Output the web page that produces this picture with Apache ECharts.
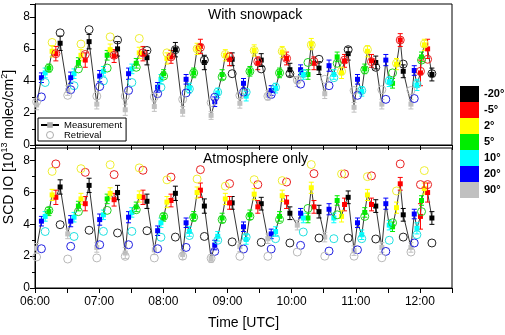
<!DOCTYPE html>
<html>
<head>
<meta charset="utf-8">
<script src="https://cdn.jsdelivr.net/npm/echarts@6/dist/echarts.min.js"></script>
<style>
  html, body { margin: 0; padding: 0; background: #fff; }
  #visualisation { width: 505px; height: 335px; }
</style>
</head>
<body>
<div id="visualisation"></div>
<script>
// elevation angles and their colours (legend order)
const angles = ['-20°', '-5°', '2°', '5°', '10°', '20°', '90°'];
const angleColors = ['#000000', '#ff0000', '#ffff00', '#00ee00', '#00ffff', '#0000ff', '#c0c0c0'];
const circleColors = ['#222222', '#e82020', '#eeee30', '#20d020', '#20e0e0', '#2020e0', '#b8b8b8'];

// measurements: [minutes after 06:00, SCD, error]
const m_20 = [[23.5,6.35,.45],[50.6,6.45,.45],[77.2,6.0,.45],[104.7,5.45,.45],[131.3,5.95,.45],[158.4,5.15,.45],[184.4,5.35,.4],[211.6,5.3,.4],[238.4,4.7,.4],[265.6,4.8,.4],[292.9,5.7,.4],[318.7,5.15,.4],[344.4,4.6,.4],[371.2,4.4,.4]];
const m_5 = [[19.5,5.7,.45],[47,5.3,.45],[74,5.55,.4],[101,5.7,.45],[127.2,5.5,.4],[154.7,6.15,.45],[182,5.35,.4],[208.4,5.1,.4],[235.3,5.4,.4],[260.9,5.1,.4],[289.5,5.25,.4],[314.7,5.25,.4],[341.6,6.55,.4],[360.5,4.5,.8],[367.2,6.0,.6]];
const m2 = [[16,5.85,.35],[43,5.6,.35],[70.3,5.95,.35],[97.5,5.75,.35],[123.4,5.4,.35],[151.6,6.0,.35],[178,5.6,.35],[205,5.9,.35],[231.2,5.8,.35],[258.4,6.3,.35],[286.7,4.5,.35],[310.9,5.85,.35],[338.1,5.05,.35],[364.1,6.25,.35]];
const m5 = [[13,4.8,.25],[40.6,5.15,.3],[67.5,5.6,.3],[94.7,5.1,.3],[120.3,4.45,.25],[148.4,4.5,.3],[175,4.4,.3],[201,4.6,.3],[228.7,4.5,.3],[255.3,4.4,.3],[282.6,5.5,.3],[308.4,4.75,.3],[334.4,3.85,.3],[361.5,5.5,.3]];
const m10 = [[9.5,4.5,.3],[36.5,4.45,.3],[64,4.6,.3],[90.6,4.75,.3],[117.8,4.1,.3],[144.4,3.55,.3],[170.9,3.25,.3],[197.5,3.05,.3],[225,3.55,.3],[250.9,4.4,.3],[279.5,4.4,.3],[305.6,3.35,.3],[331.3,3.95,.3],[357.2,3.75,.35]];
const m20 = [[6,4.2,.3],[33.4,4.2,.35],[60.5,4.3,.35],[87.5,4.45,.35],[114.7,3.6,.3],[141.3,4.1,.3],[168.1,2.7,.3],[195,3.85,.3],[220.9,3.4,.3],[248.4,4.7,.3],[275,4.95,.35],[301.6,4.1,.3],[328.1,5.3,.35],[354.7,4.65,.3]];
const m90 = [[1.5,2.5,.3],[30.6,3.4,.3],[57.8,2.55,.3],[84.4,2.2,.35],[111.6,2.4,.3],[138.1,2.1,.3],[164.7,1.85,.25],[191.6,2.6,.3],[217.8,3.1,.3],[245.3,3.95,.3],[271,3.2,.3],[298.4,2.35,.3],[324.4,2.55,.3],[351.6,2.55,.3]];

// retrievals "with snowpack" (same times as the measurements)
const s_20 = [7.0,7.2,6.55,5.9,5.95,5.3,4.45,4.75,4.45,5.35,5.95,4.85,5.05,4.45];
const s_5 = [5.7,5.65,5.6,5.75,5.5,6.1,5.5,5.2,5.4,5.2,5.3,5.2,6.55,4.6,5.35];
const s2 = [6.4,6.3,6.75,6.65,5.75,6.0,5.65,5.9,5.85,6.25,4.6,5.95,5.1,6.3];
const s5 = [4.8,4.75,4.8,4.85,4.3,4.5,4.25,4.6,4.5,5.15,5.1,4.7,4.5,5.3];
const s10 = [3.9,3.7,4.0,3.9,3.6,3.5,3.3,3.3,3.6,4.45,4.2,3.4,4.0,3.8];
const s20 = [3.0,3.45,3.65,3.4,3.2,3.25,2.98,3.3,3.15,3.8,3.7,3.1,2.85,2.9];
const s90 = [2.7,3.1,3.05,3.05,3.0,2.85,2.65,3.1,3.05,4.05,4.1,3.4,3.45,3.4];

// retrievals "atmosphere only"
const a_20 = [3.98,3.63,3.46,3.6,3.2,3.24,2.9,2.87,2.83,3.14,3.14,3.08,3.2,2.83];
const a_5 = [7.8,7.27,7.13,7.4,6.97,7.44,6.56,6.5,6.66,7.19,7.17,7.05,7.8,6.5,6.5];
const a2 = [7.33,7.5,7.75,7.55,6.8,6.85,6.4,6.81,6.75,7.76,7.17,7.0,6.1,7.38];
const a5 = [4.88,4.8,4.88,4.92,4.5,4.45,4.3,4.5,4.3,5.0,4.6,4.5,4.1,4.8];
const a10 = [3.55,3.24,3.56,3.56,3.19,3.3,3.0,3.2,3.1,3.52,3.1,3.1,3.0,3.35];
const a20 = [2.47,2.62,2.72,2.72,2.47,2.55,2.3,2.45,2.45,2.68,2.32,2.4,2.3,2.83];
const a90 = [1.95,1.82,1.89,1.99,1.89,2.0,1.87,1.99,1.99,2.26,2.0,2.0,1.9,2.26];

const meas = [m_20, m_5, m2, m5, m10, m20, m90];
const snow = [s_20, s_5, s2, s5, s10, s20, s90];
const atm = [a_20, a_5, a2, a5, a10, a20, a90];

const panelTitles = ['With snowpack', 'Atmosphere only'];
const font = 'Liberation Sans, Arial, sans-serif';

function errorBars(panel, data, color) {
  return {
    type: 'custom', xAxisIndex: panel, yAxisIndex: panel, z: 3, silent: true,
    encode: { x: 0, y: 1 },
    data: data,
    renderItem: (params, api) => {
      let x = api.value(0), y = api.value(1), e = api.value(2);
      let hi = api.coord([x, y + e]), lo = api.coord([x, y - e]);
      let st = { stroke: color, lineWidth: 1 };
      return {
        type: 'group', children: [
          { type: 'line', shape: { x1: hi[0], y1: hi[1], x2: lo[0], y2: lo[1] }, style: st },
          { type: 'line', shape: { x1: hi[0] - 2.5, y1: hi[1], x2: hi[0] + 2.5, y2: hi[1] }, style: st },
          { type: 'line', shape: { x1: lo[0] - 2.5, y1: lo[1], x2: lo[0] + 2.5, y2: lo[1] }, style: st }
        ]
      };
    }
  };
}

function drawVisualisation() {
  let visualisation = echarts.init(document.getElementById('visualisation'));

  // all measurements in time order, for the connecting line
  let linePoints = meas.flat().map(p => [p[0], p[1]]).sort((a, b) => a[0] - b[0]);

  let series = [];
  [0, 1].forEach(panel => {
    series.push({
      name: 'Measurement', type: 'line', xAxisIndex: panel, yAxisIndex: panel,
      data: linePoints, symbol: 'rect', symbolSize: 5, showSymbol: false, z: 2,
      lineStyle: { color: '#000', width: 0.8 }, itemStyle: { color: '#aaa' },
      silent: true
    });
    meas.forEach((m, i) => {
      series.push(errorBars(panel, m, angleColors[i]));
    });
    meas.forEach((m, i) => {
      series.push({
        name: angles[i], type: 'scatter', xAxisIndex: panel, yAxisIndex: panel,
        data: m.map(p => [p[0], p[1]]), symbol: 'rect', symbolSize: 5, z: 4,
        itemStyle: { color: angleColors[i], opacity: 1 }
      });
    });
    let retr = panel === 0 ? snow : atm;
    retr.forEach((r, i) => {
      series.push({
        type: 'scatter', xAxisIndex: panel, yAxisIndex: panel,
        data: r.map((v, k) => [meas[i][k][0], v]), symbol: 'circle', symbolSize: 8, z: 5,
        itemStyle: { color: 'transparent', borderColor: circleColors[i], borderWidth: 1, opacity: 1 }
      });
    });
  });
  // legend entry for the open circles
  series.push({
    name: 'Retrieval', type: 'scatter', data: [[-100, -100]], symbol: 'circle', symbolSize: 8,
    itemStyle: { color: 'transparent', borderColor: '#999', borderWidth: 1 }
  });

  let grids = [
    { left: 35, right: 53, top: 4, height: 141 },
    { left: 35, right: 53, top: 148, height: 140 }
  ];

  let option = {
    animation: false,
    textStyle: { fontFamily: font },
    title: panelTitles.map((t, i) => ({
      text: t, left: i === 0 ? 208 : 203, top: i === 0 ? 8 : 152, padding: 0,
      textStyle: { fontSize: 14, fontWeight: 'normal', color: '#000', fontFamily: font }
    })),
    grid: grids.map(g => Object.assign({ show: true, borderColor: '#000', borderWidth: 1 }, g)),
    xAxis: [0, 1].map(panel => ({
      type: 'value', gridIndex: panel, min: 0, max: 390, interval: 30,
      axisLine: { show: true, lineStyle: { color: '#000' } },
      axisTick: { show: true, length: 5, lineStyle: { color: '#000' } },
      splitLine: { show: false },
      axisLabel: {
        show: panel === 1, color: '#000', fontSize: 12, margin: 8,
        formatter: v => v % 60 === 0 ? String(6 + v / 60).padStart(2, '0') + ':00' : ''
      },
      name: panel === 1 ? 'Time [UTC]' : '', nameLocation: 'middle', nameGap: 28,
      nameTextStyle: { fontSize: 14, color: '#000' }
    })),
    yAxis: [0, 1].map(panel => ({
      type: 'value', gridIndex: panel, min: 0, max: 8.8, interval: 2,
      axisLine: { show: true, lineStyle: { color: '#000' } },
      axisTick: { show: true, length: 5, lineStyle: { color: '#000' } },
      minorTick: { show: true, splitNumber: 2, length: 3, lineStyle: { color: '#000' } },
      splitLine: { show: false },
      axisLabel: { color: '#000', fontSize: 12, margin: 5, showMaxLabel: false }
    })),
    legend: [
      {
        left: 38, top: 118, orient: 'vertical', padding: [2, 4, 1, 2], itemGap: 0,
        itemWidth: 18, itemHeight: 7, borderColor: '#000', borderWidth: 1,
        textStyle: { fontSize: 9.5, color: '#000' }, selectedMode: false,
        data: [
          { name: 'Measurement', itemStyle: { color: '#aaa' } },
          { name: 'Retrieval', itemStyle: { borderWidth: 1 } }
        ]
      },
      {
        left: 460, top: 86, orient: 'vertical', padding: 0, itemGap: 0,
        itemWidth: 19, itemHeight: 16, icon: 'rect', selectedMode: false,
        textStyle: { fontSize: 11, fontWeight: 'bold', color: '#000' },
        data: angles
      }
    ],
    graphic: [{
      type: 'text', x: 9, y: 147, rotation: Math.PI / 2,
      style: {
        text: '{a|SCD IO [10}{s|13}{a| molec/cm}{s|2}{a|]}',
        align: 'center', verticalAlign: 'middle', fill: '#000',
        rich: {
          a: { fontSize: 14, fontFamily: font, lineHeight: 18 },
          s: { fontSize: 9, fontFamily: font, verticalAlign: 'top', lineHeight: 18 }
        }
      }
    }],
    series: series
  };

  visualisation.setOption(option);
}

window.addEventListener('load', drawVisualisation);
</script>
</body>
</html>
